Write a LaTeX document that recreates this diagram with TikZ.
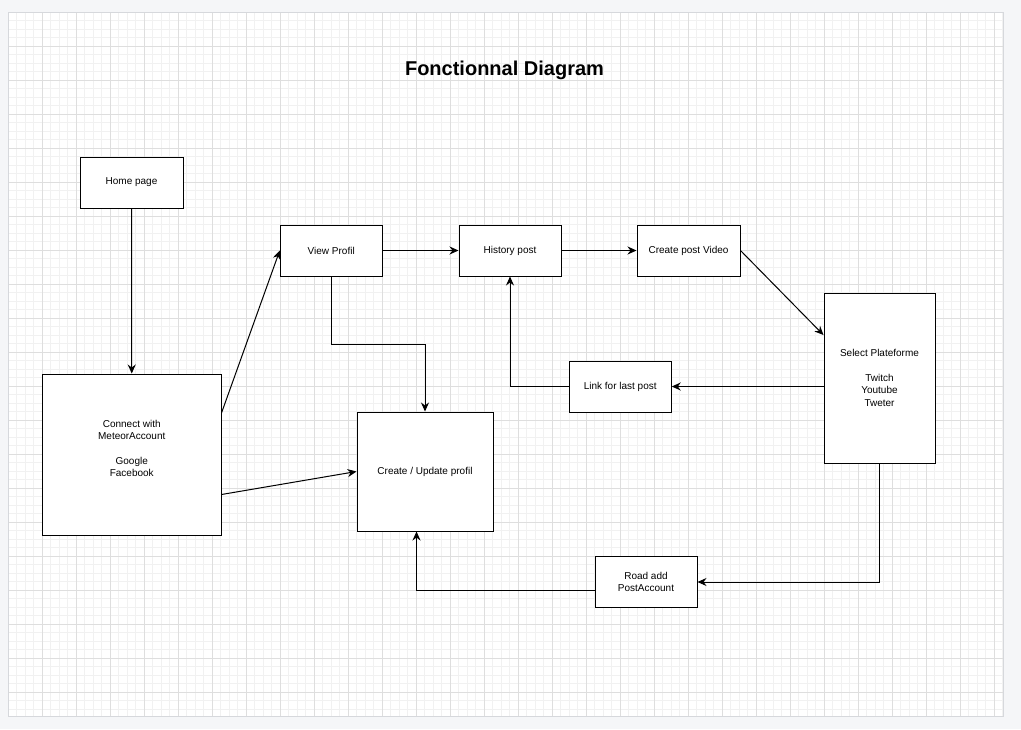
\documentclass[tikz,border=0pt]{standalone}
\usepackage{fontspec}
\setmainfont{Liberation Sans}
\usetikzlibrary{arrows.meta}

\definecolor{pagebg}{RGB}{245,246,248}
\definecolor{gridmajor}{RGB}{222,222,222}
\definecolor{gridminor}{RGB}{241,241,241}
\definecolor{sheetedge}{RGB}{214,216,220}

\tikzset{
	fdbox/.style={draw, line width=1pt, fill=white, rectangle, inner sep=0pt, align=center,
		font=\fontsize{10}{12.3}\selectfont},
	fdarrow/.style={line width=1pt, -{Stealth[length=9pt,width=8pt,inset=3pt]}},
}

\begin{document}
\begin{tikzpicture}[x=1pt,y=-1pt]
\useasboundingbox (0,0) rectangle (1021,729);
\fill[pagebg] (0,0) rectangle (1021,729);
\fill[white] (8,12) rectangle (1003,716);

\pgfmathsetmacro{\shL}{8}
\pgfmathsetmacro{\shT}{12}
\pgfmathsetmacro{\shR}{1003}
\pgfmathsetmacro{\shB}{716}

\foreach \i in {0,...,117}
	\draw[gridminor, line width=0.8pt] ({\shL+8.5*\i},\shT) -- ({\shL+8.5*\i},\shB);
\foreach \i in {0,...,82}
	\draw[gridminor, line width=0.8pt] (\shL,{\shT+8.5*\i}) -- (\shR,{\shT+8.5*\i});
\foreach \i in {1,...,29}
	\draw[gridmajor, line width=0.8pt] ({\shL+34*\i},\shT) -- ({\shL+34*\i},\shB);
\foreach \i in {1,...,20}
	\draw[gridmajor, line width=0.8pt] (\shL,{\shT+34*\i}) -- (\shR,{\shT+34*\i});
\draw[sheetedge, line width=0.8pt] (\shL,\shT) rectangle (\shR,\shB);

\node[anchor=base] (title) at (504.5,75) {\fontsize{20}{24}\selectfont\bfseries Fonctionnal Diagram};

\pgfmathsetmacro{\fdRow}{250.5}

\node[fdbox, minimum width=103pt, minimum height=51pt] (home) at (131.5,182.5) {Home page};
\node[fdbox, minimum width=178.5pt, minimum height=161pt] (connect) at (131.75,454.5)
	{Connect with\\MeteorAccount\\[12.3pt]Google\\Facebook\\ \mbox{}};
\node[fdbox, minimum width=136pt, minimum height=119pt] (update) at (425,471.5) {Create / Update profil};
\node[fdbox, minimum width=102pt, minimum height=51pt] (view) at (331.25,\fdRow) {View Profil};
\node[fdbox, minimum width=102pt, minimum height=51pt] (history) at (510,\fdRow) {History post};
\node[fdbox, minimum width=103pt, minimum height=51pt] (video) at (688.5,\fdRow) {Create post Video};
\node[fdbox, minimum width=111pt, minimum height=170pt] (select) at (879.5,378)
	{Select Plateforme\\[12.3pt]Twitch\\Youtube\\Tweter};
\node[fdbox, minimum width=102pt, minimum height=51pt] (link) at (620.25,386.5) {Link for last post};
\node[fdbox, minimum width=102pt, minimum height=51pt] (road) at (646,582) {Road add\\PostAccount};

\draw[fdarrow] (home.south) -- (connect.north);
\draw[fdarrow] ([yshift=41.5pt]connect.east) -- (view.west);
\draw[fdarrow] ([yshift=-40pt]connect.east) -- (update.west);
\draw[fdarrow] (view.south) -- ++(0,68) -| (update.north);
\draw[fdarrow] (view.east) -- (history.west);
\draw[fdarrow] (history.east) -- (video.west);
\draw[fdarrow] (video.east) -- ([yshift=43pt]select.west);
\draw[fdarrow] (select.west |- link.east) -- (link.east);
\draw[fdarrow] (link.west) -| (history.south);
\draw[fdarrow] (select.south) |- (road.east);
\draw[fdarrow] ([yshift=-8pt]road.west) -| ([xshift=-8.5pt]update.south);
\end{tikzpicture}
\end{document}
